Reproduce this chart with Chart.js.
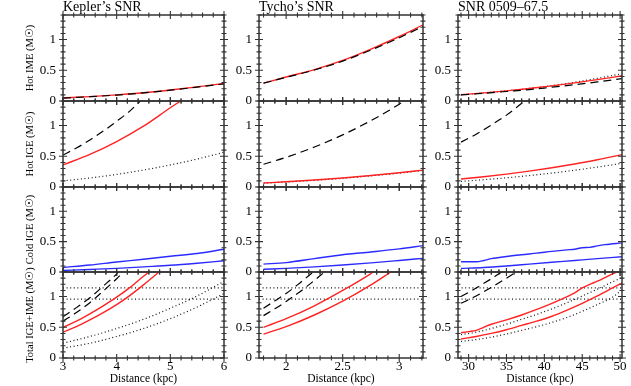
<!DOCTYPE html>
<html><head><meta charset="utf-8">
<script src="https://cdn.jsdelivr.net/npm/chart.js@4.4.1/dist/chart.umd.min.js"></script>
<style>
html,body{margin:0;padding:0;background:#fff;}
#wrap{position:relative;width:631px;height:386px;overflow:hidden;background:#fff;}
canvas{position:absolute;}
</style></head><body><div id="wrap"></div>
<script>
// ---------- DATA ----------
const yTicks = [0, 0.5, 1];
const yRange = [0, 1.4];
const yTitles = ['Hot IME (M\u2609)', 'Hot IGE (M\u2609)', 'Cold IGE (M\u2609)', 'Total IGE+IME (M\u2609)'];
const colTitles = ['Kepler\u2019s SNR', 'Tycho\u2019s SNR', 'SNR 0509\u201367.5'];
const xTitle = 'Distance (kpc)';

const kepRange = [3, 6];        const kepXTicks = [3, 4, 5, 6];
const tycRange = [1.76, 3.21];  const tycXTicks = [2, 2.5, 3];
const snrRange = [28.6, 50.25]; const snrXTicks = [30, 35, 40, 45, 50];
const totLevels = [0.96, 1.14];

// Kepler
const kepHotImeRed  = [[3,0.05],[3.5,0.072],[4,0.10],[4.5,0.135],[5,0.18],[5.5,0.23],[6,0.285]];
const kepHotImeDash = [[3,0.048],[3.5,0.07],[4,0.097],[4.5,0.132],[5,0.176],[5.5,0.226],[6,0.28]];
const kepHotIgeDash = [[3,0.52],[3.25,0.635],[3.5,0.765],[3.75,0.91],[4,1.07],[4.25,1.24],[4.44,1.40]];
const kepHotIgeRed  = [[3,0.36],[3.5,0.53],[4,0.74],[4.5,0.99],[5,1.29],[5.19,1.40]];
const kepHotIgeDot  = [[3,0.10],[3.5,0.147],[4,0.205],[4.5,0.276],[5,0.359],[5.5,0.455],[6,0.566]];
const kepColdHi = [[3,0.075],[3.5,0.115],[4,0.165],[4.5,0.21],[5,0.26],[5.5,0.305],[6,0.375]];
const kepColdLo = [[3,0.025],[3.5,0.042],[4,0.06],[4.5,0.085],[5,0.11],[5.5,0.145],[6,0.185]];
const kepTotRedHi  = [[3,0.50],[3.25,0.60],[3.5,0.72],[3.75,0.85],[4,0.99],[4.25,1.15],[4.5,1.33],[4.6,1.40]];
const kepTotRedLo  = [[3,0.42],[3.25,0.51],[3.5,0.62],[3.75,0.74],[4,0.87],[4.25,1.02],[4.5,1.19],[4.79,1.40]];
const kepTotDashHi = [[3,0.67],[3.25,0.82],[3.5,0.98],[3.75,1.17],[4,1.37],[4.03,1.40]];
const kepTotDashLo = [[3,0.60],[3.25,0.74],[3.5,0.90],[3.75,1.09],[4,1.29],[4.12,1.40]];
const kepTotDotHi  = [[3,0.24],[3.5,0.35],[4,0.48],[4.5,0.63],[5,0.81],[5.5,1.01],[6,1.25]];
const kepTotDotLo  = [[3,0.16],[3.5,0.24],[4,0.35],[4.5,0.48],[5,0.64],[5.5,0.83],[6,1.05]];

// Tycho
const tycHotImeRed  = [[1.8,0.29],[2,0.39],[2.25,0.51],[2.5,0.66],[2.75,0.845],[3,1.05],[3.21,1.24]];
const tycHotImeDash = [[1.8,0.29],[2,0.385],[2.25,0.505],[2.5,0.65],[2.75,0.83],[3,1.03],[3.21,1.215]];
const tycHotIgeDash = [[1.8,0.37],[2,0.483],[2.25,0.651],[2.5,0.849],[2.75,1.081],[3,1.347],[3.044,1.40]];
const tycHotIgeRed  = [[1.8,0.065],[2,0.085],[2.25,0.113],[2.5,0.147],[2.75,0.187],[3,0.233],[3.21,0.275]];
const tycHotIgeDot  = [[1.8,0.062],[2,0.082],[2.25,0.109],[2.5,0.142],[2.75,0.181],[3,0.226],[3.21,0.268]];
const tycColdHi = [[1.8,0.13],[2,0.155],[2.25,0.22],[2.5,0.285],[2.75,0.33],[3,0.38],[3.21,0.435]];
const tycColdLo = [[1.8,0.045],[2,0.06],[2.25,0.085],[2.5,0.115],[2.75,0.15],[3,0.19],[3.21,0.225]];
const tycTotRedHi  = [[1.8,0.50],[2,0.64],[2.25,0.85],[2.5,1.10],[2.75,1.375],[2.77,1.40]];
const tycTotRedLo  = [[1.8,0.39],[2,0.51],[2.25,0.70],[2.5,0.925],[2.75,1.19],[2.925,1.40]];
const tycTotDashHi = [[1.8,0.81],[1.9,0.93],[2,1.05],[2.1,1.19],[2.24,1.40]];
const tycTotDashLo = [[1.8,0.69],[1.9,0.80],[2,0.92],[2.1,1.05],[2.2,1.19],[2.34,1.40]];

// SNR 0509-67.5
const snrHotImeRed  = [[29,0.103],[32,0.132],[35,0.165],[38,0.204],[41,0.246],[44,0.295],[47,0.348],[50.25,0.41]];
const snrHotImeDash = [[29,0.10],[32,0.125],[35,0.155],[38,0.185],[41,0.225],[44,0.265],[47,0.31],[50.25,0.365]];
const snrHotImeDot  = [[29,0.10],[32,0.13],[35,0.165],[38,0.205],[41,0.25],[44,0.305],[47,0.37],[50.25,0.445]];
const snrHotIgeDash = [[29,0.73],[31,0.86],[33,1.01],[35,1.17],[37.4,1.40]];
const snrHotIgeRed  = [[29,0.13],[32,0.167],[35,0.21],[38,0.258],[41,0.313],[44,0.375],[47,0.443],[50.25,0.527]];
const snrHotIgeDot  = [[29,0.092],[32,0.119],[35,0.15],[38,0.186],[41,0.227],[44,0.273],[47,0.324],[50.25,0.386]];
const snrColdHi = [[29,0.17],[31,0.17],[32,0.19],[33,0.22],[35,0.255],[37,0.285],[39,0.31],[41,0.34],[43,0.365],[44,0.375],[45,0.40],[46,0.405],[47,0.43],[48,0.45],[50.25,0.48]];
const snrColdLo = [[29,0.06],[32,0.075],[35,0.10],[38,0.13],[41,0.16],[44,0.19],[47,0.22],[50.25,0.25]];
const snrTotRedHi  = [[29,0.41],[30,0.43],[31,0.45],[32,0.50],[33,0.55],[35,0.62],[37,0.70],[39,0.79],[41,0.89],[43,1.00],[44,1.06],[45,1.14],[46,1.20],[47,1.25],[48,1.31],[49,1.37],[49.6,1.40]];
const snrTotRedLo  = [[29,0.31],[31,0.35],[33,0.40],[35,0.46],[37,0.53],[39,0.60],[41,0.68],[43,0.78],[45,0.89],[47,1.01],[49,1.14],[50.25,1.22]];
const snrTotDotHi  = [[29,0.38],[31,0.42],[33,0.48],[35,0.55],[37,0.63],[39,0.71],[41,0.80],[43,0.90],[45,1.01],[47,1.12],[49,1.24],[50.25,1.31]];
const snrTotDotLo  = [[29,0.27],[31,0.30],[33,0.34],[35,0.39],[37,0.45],[39,0.51],[41,0.58],[43,0.66],[45,0.76],[47,0.87],[49,0.99],[50.25,1.11]];
const snrTotDashHi = [[29,1.0],[31,1.14],[33,1.29],[34,1.37],[34.4,1.40]];
const snrTotDashLo = [[29,0.89],[31,1.01],[33,1.15],[35,1.30],[36.3,1.40]];

// ---------- STYLE ----------
const FONT = '"Liberation Serif","Times New Roman",serif';
const RED  = {c:'#ff2222', d:[], w:1.4};
const BLUE = {c:'#2b2bff', d:[], w:1.4};
const DASH = {c:'#000000', d:[8,5], w:1.2};
const DOT  = {c:'#111111', d:[1,2.6], w:1.2};

const colGeom = [{l:63,r:224,yW:43,padR:12},{l:259,r:423,yW:35,padR:12},{l:458,r:622,yW:35,padR:9}];
const rowGeom = [{t:15,b:101},{t:101,b:187},{t:187,b:272},{t:272,b:358}];

function hlines(range){ return totLevels.map(v => [[[range[0], v],[range[1], v]], DOT]); }

const cols = [
  {title: colTitles[0], range: kepRange, xTicks: kepXTicks, xMinor: 0.2, rows: [
    [[kepHotImeRed,RED],[kepHotImeDash,DASH]],
    [[kepHotIgeDot,DOT],[kepHotIgeRed,RED],[kepHotIgeDash,DASH]],
    [[kepColdHi,BLUE],[kepColdLo,BLUE]],
    [...hlines(kepRange),[kepTotDotHi,DOT],[kepTotDotLo,DOT],[kepTotDashHi,DASH],[kepTotDashLo,DASH],[kepTotRedHi,RED],[kepTotRedLo,RED]]
  ]},
  {title: colTitles[1], range: tycRange, xTicks: tycXTicks, xMinor: 0.1, rows: [
    [[tycHotImeRed,RED],[tycHotImeDash,DASH]],
    [[tycHotIgeDot,DOT],[tycHotIgeRed,RED],[tycHotIgeDash,DASH]],
    [[tycColdHi,BLUE],[tycColdLo,BLUE]],
    [...hlines(tycRange),[tycTotDashHi,DASH],[tycTotDashLo,DASH],[tycTotRedHi,RED],[tycTotRedLo,RED]]
  ]},
  {title: colTitles[2], range: snrRange, xTicks: snrXTicks, xMinor: 1, rows: [
    [[snrHotImeDot,DOT],[snrHotImeRed,RED],[snrHotImeDash,DASH]],
    [[snrHotIgeDot,DOT],[snrHotIgeRed,RED],[snrHotIgeDash,DASH]],
    [[snrColdHi,BLUE],[snrColdLo,BLUE]],
    [...hlines(snrRange),[snrTotDotHi,DOT],[snrTotDotLo,DOT],[snrTotDashHi,DASH],[snrTotDashLo,DASH],[snrTotRedHi,RED],[snrTotRedLo,RED]]
  ]}
];

function series(pts, st){
  return {data: pts.map(p => ({x:p[0], y:p[1]})), borderColor: st.c, backgroundColor: st.c,
    borderWidth: st.w, borderDash: st.d, pointRadius: 0, pointHoverRadius: 0, fill: false,
    cubicInterpolationMode: 'monotone', borderCapStyle: 'butt'};
}

function steps(min, max, step){
  const out = [];
  for (let i = Math.ceil(min/step - 1e-9); i*step <= max + 1e-9; i++) out.push(i*step);
  return out;
}

const frameTicks = {
  id: 'frameTicks',
  afterDatasetsDraw(chart, args, o){
    const {ctx, chartArea: a} = chart;
    const sx = chart.scales.x, sy = chart.scales.y;
    ctx.save();
    ctx.setLineDash([]);
    ctx.strokeStyle = '#333333';
    ctx.lineWidth = 1.1;
    ctx.beginPath();
    const hT = (v, L) => { const p = sx.getPixelForValue(v);
      ctx.moveTo(p, a.bottom - L); ctx.lineTo(p, a.bottom + L);
      ctx.moveTo(p, a.top - L); ctx.lineTo(p, a.top + L); };
    const vT = (v, L) => { const p = sy.getPixelForValue(v);
      ctx.moveTo(a.left - L, p); ctx.lineTo(a.left + L, p);
      ctx.moveTo(a.right - L, p); ctx.lineTo(a.right + L, p); };
    steps(sx.min, sx.max, o.xMinor).forEach(v => hT(v, 2.5));
    o.xMajor.forEach(v => hT(v, 4));
    steps(sy.min, sy.max, o.yMinor).forEach(v => vT(v, 2.5));
    o.yMajor.forEach(v => vT(v, 4));
    ctx.stroke();
    ctx.lineWidth = 1.5;
    ctx.strokeRect(a.left, a.top, a.right - a.left, a.bottom - a.top);
    ctx.restore();
  }
};

const wrap = document.getElementById('wrap');
cols.forEach((col, ci) => {
  const g = colGeom[ci];
  col.rows.forEach((rowSeries, ri) => {
    const rg = rowGeom[ri];
    const first = ri === 0, last = ri === 3;
    const padT = first ? 0 : 16;
    const topSpace = first ? 15 : padT;
    const xH = last ? 28 : 16;
    const plotW = g.r - g.l, plotH = rg.b - rg.t;
    const cw = g.yW + plotW + g.padR;
    const ch = topSpace + plotH + xH;
    const cv = document.createElement('canvas');
    cv.width = cw; cv.height = ch;
    cv.style.left = (g.l - g.yW) + 'px';
    cv.style.top = (rg.t - topSpace) + 'px';
    cv.style.width = cw + 'px'; cv.style.height = ch + 'px';
    wrap.appendChild(cv);
    const datasets = rowSeries.map(s => series(s[0], s[1])).reverse();
    new Chart(cv, {
      type: 'line',
      data: {datasets},
      plugins: [frameTicks],
      options: {
        responsive: false, animation: false, devicePixelRatio: 1, events: [],
        layout: {padding: {top: padT, right: g.padR, left: 0, bottom: 0}},
        plugins: {
          legend: {display: false}, tooltip: {enabled: false},
          title: {display: first, text: col.title, align: 'start', fullSize: false, position: 'top',
            color: '#000', padding: 0,
            font: {family: FONT, size: 14, weight: 'normal', lineHeight: '15px'}},
          frameTicks: {xMajor: col.xTicks, xMinor: col.xMinor, yMajor: yTicks, yMinor: 0.1}
        },
        scales: {
          x: {type: 'linear', position: 'bottom', min: col.range[0], max: col.range[1],
            afterBuildTicks: s => { s.ticks = col.xTicks.map(v => ({value: v})); },
            afterFit: s => { s.height = xH; },
            grid: {display: false, drawTicks: false}, border: {display: false},
            ticks: {display: last, color: '#000', padding: 2, maxRotation: 0, autoSkip: false,
              font: {family: FONT, size: 13, lineHeight: 1}, callback: v => String(v)},
            title: {display: last, text: xTitle, color: '#000', padding: {top: 0, bottom: 0},
              font: {family: FONT, size: 11.5}}},
          y: {type: 'linear', position: 'left', min: yRange[0], max: yRange[1],
            afterBuildTicks: s => { s.ticks = yTicks.map(v => ({value: v})); },
            afterFit: s => { s.width = g.yW; },
            grid: {display: false, drawTicks: false}, border: {display: false},
            ticks: {display: true, color: '#000', padding: 7,
              font: {family: FONT, size: 13, lineHeight: 1}, callback: v => String(v)},
            title: {display: ci === 0, text: yTitles[ri], color: '#000', padding: {top: 4, bottom: 0},
              font: {family: FONT, size: 10.5}}}
        }
      }
    });
  });
});
</script>
</body></html>
